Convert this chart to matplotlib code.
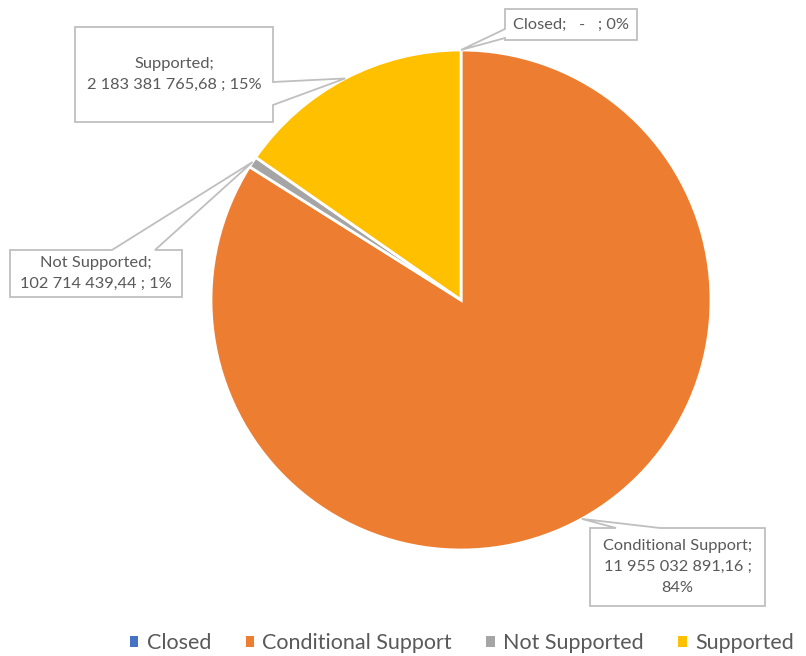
import matplotlib.pyplot as plt
from matplotlib.patches import Polygon
import numpy as np

categories = ["Closed", "Conditional Support", "Not Supported", "Supported"]
values = [0.0, 11955032891.16, 102714439.44, 2183381765.68]
colors = ["#4472C4", "#ED7D31", "#A5A5A5", "#FFC000"]

W, H = 806, 656
TEXT = "#595959"
BORDER = "#BFBFBF"
FONT = "Lato"


def fmt_value(v):
    if v == 0:
        return " -   "
    return f"{v:,.2f}".replace(",", " ").replace(".", ",")


def callout(ax, box, side, base, tip, lines):
    # box in image pixels (y down); tip in data coords
    x0, y0, x1, y1 = box
    b0, b1 = base
    tx, ty = tip
    if side == "right":
        pts = [(x0, y0), (x1, y0), (x1, b0), None, (x1, b1), (x1, y1), (x0, y1)]
    elif side == "top":
        pts = [(x0, y0), (b0, y0), None, (b1, y0), (x1, y0), (x1, y1), (x0, y1)]
    else:  # left
        pts = [(x0, y0), (x1, y0), (x1, y1), (x0, y1), (x0, b1), None, (x0, b0)]
    verts = [(tx, ty) if p is None else (p[0], H - p[1]) for p in pts]
    ax.add_patch(Polygon(verts, closed=True, facecolor="white",
                         edgecolor=BORDER, linewidth=1.3, zorder=5))
    ax.text((x0 + x1) / 2, H - (y0 + y1) / 2, "\n".join(lines),
            ha="center", va="center", fontsize=11.8, color=TEXT,
            family=FONT, linespacing=1.6, zorder=6)


fig = plt.figure(figsize=(W / 100, H / 100), dpi=100)
ax = fig.add_axes([0, 0, 1, 1])

center = (461, H - 300)
radius = 250
wedges, _ = ax.pie(values, colors=colors, startangle=90, counterclock=False,
                   radius=radius, center=center,
                   wedgeprops=dict(edgecolor="white", linewidth=2))
ax.set_xlim(0, W)
ax.set_ylim(0, H)
ax.set_aspect("equal")
ax.axis("off")

total = sum(values)
tips = []
for w in wedges:
    mid = np.deg2rad((w.theta1 + w.theta2) / 2)
    tips.append((center[0] + radius * np.cos(mid), center[1] + radius * np.sin(mid)))

labels = []
for c, v in zip(categories, values):
    labels.append((c, fmt_value(v), f"{round(100 * v / total):.0f}%"))

# Closed
c, v, p = labels[0]
callout(ax, (505, 9, 637, 40), "left", (29, 38), tips[0], [f"{c};  {v}; {p}"])
# Conditional Support
c, v, p = labels[1]
callout(ax, (590, 528, 765, 606), "top", (616, 660), tips[1],
        [f"{c};", f"{v} ;", p])
# Not Supported
c, v, p = labels[2]
callout(ax, (10, 250, 182, 297), "top", (112, 155), tips[2], [f"{c};", f"{v} ; {p}"])
# Supported
c, v, p = labels[3]
callout(ax, (75, 27, 273, 122), "right", (82, 105), tips[3], [f"{c};", f"{v} ; {p}"])

leg = fig.legend(wedges, categories, loc="center left",
                 bbox_to_anchor=(130 / W, 1 - 643 / H),
                 ncol=4, frameon=False, borderpad=0, borderaxespad=0,
                 handlelength=0.38, handleheight=0.38,
                 handletextpad=0.4, columnspacing=1.6,
                 prop=dict(family=FONT, size=15.5))
for t in leg.get_texts():
    t.set_color(TEXT)
for h in leg.legend_handles:
    h.set_edgecolor("none")

fig.savefig("out.png", dpi=100)
